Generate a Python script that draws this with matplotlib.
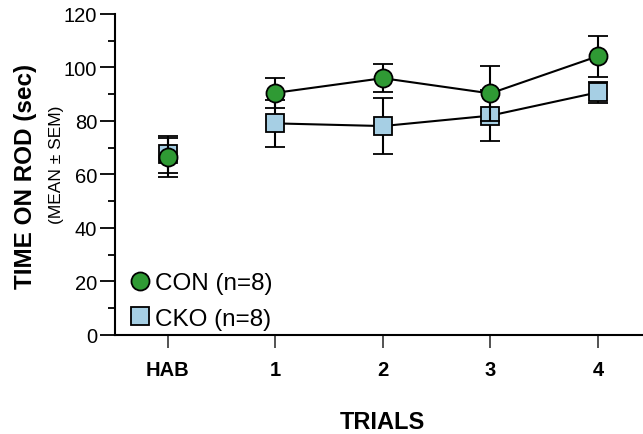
import matplotlib
matplotlib.use("Agg")
import matplotlib.pyplot as plt
from matplotlib.lines import Line2D
from matplotlib.ticker import MultipleLocator

plt.rcParams['font.family'] = ['Liberation Sans', 'DejaVu Sans']

trials = ["HAB", "1", "2", "3", "4"]
con_mean = [66.5, 90.5, 96.0, 90.3, 104.2]
con_sem = [7.3, 5.5, 5.3, 10.4, 7.7]
cko_mean = [67.5, 79.1, 78.1, 82.0, 90.7]
cko_sem = [6.8, 8.7, 10.4, 9.4, 4.0]

GREEN = "#2f9a34"
BLUE = "#a6cfe4"

fig = plt.figure(figsize=(6.43, 4.35), dpi=100)
ax = fig.add_axes((0.179, 0.2276, 0.821, 0.738))

x = list(range(len(trials)))

err_kw = dict(ecolor="black", elinewidth=1.5, capsize=7, capthick=1.5)

# HAB point is not joined to the trials
ax.errorbar(x[0], cko_mean[0], yerr=cko_sem[0], fmt="s", ms=12.5, mfc=BLUE,
            mec="black", mew=1.3, zorder=3, **err_kw)
ax.errorbar(x[1:], cko_mean[1:], yerr=cko_sem[1:], fmt="s-", color="black", lw=1.5,
            ms=12.5, mfc=BLUE, mec="black", mew=1.3, zorder=3, **err_kw)
ax.errorbar(x[0], con_mean[0], yerr=con_sem[0], fmt="o", ms=13, mfc=GREEN,
            mec="black", mew=1.3, zorder=4, **err_kw)
ax.errorbar(x[1:], con_mean[1:], yerr=con_sem[1:], fmt="o-", color="black", lw=1.5,
            ms=13, mfc=GREEN, mec="black", mew=1.3, zorder=4, **err_kw)

ax.set_xlim(-0.49, 4.42)
ax.set_ylim(0, 120)
ax.set_xticks(x)
ax.set_xticklabels(trials, fontweight="bold")
ax.yaxis.set_major_locator(MultipleLocator(20))
ax.yaxis.set_minor_locator(MultipleLocator(10))

for s in ["top", "right"]:
    ax.spines[s].set_visible(False)
for s in ["left", "bottom"]:
    ax.spines[s].set_linewidth(1.5)

ax.tick_params(axis="y", which="major", length=11, width=1.3, labelsize=14.5, pad=2)
ax.tick_params(axis="y", which="minor", length=5, width=1.3)
ax.tick_params(axis="x", which="major", length=9, width=1.3, labelsize=14.5, pad=9,
               color="#444444")

fig.text(0.594, 0.028, "TRIALS", ha="center", va="center",
         fontsize=17, fontweight="bold")
fig.text(0.040, 0.595, "TIME ON ROD (sec)", rotation=90, ha="center", va="center",
         fontsize=17.5, fontweight="bold")
fig.text(0.088, 0.62, "(MEAN ± SEM)", rotation=90, ha="center", va="center",
         fontsize=12.5)

handles = [
    Line2D([], [], marker="o", ls="none", ms=13, mfc=GREEN, mec="black", mew=1.3),
    Line2D([], [], marker="s", ls="none", ms=12.5, mfc=BLUE, mec="black", mew=1.3),
]
ax.legend(handles, ["CON (n=8)", "CKO (n=8)"], loc="lower left",
          bbox_to_anchor=(-0.008, -0.037), frameon=False, fontsize=17.5,
          handletextpad=0.1, labelspacing=0.55, borderaxespad=0.3, handlelength=1.0)

fig.savefig("out.png", dpi=100)
